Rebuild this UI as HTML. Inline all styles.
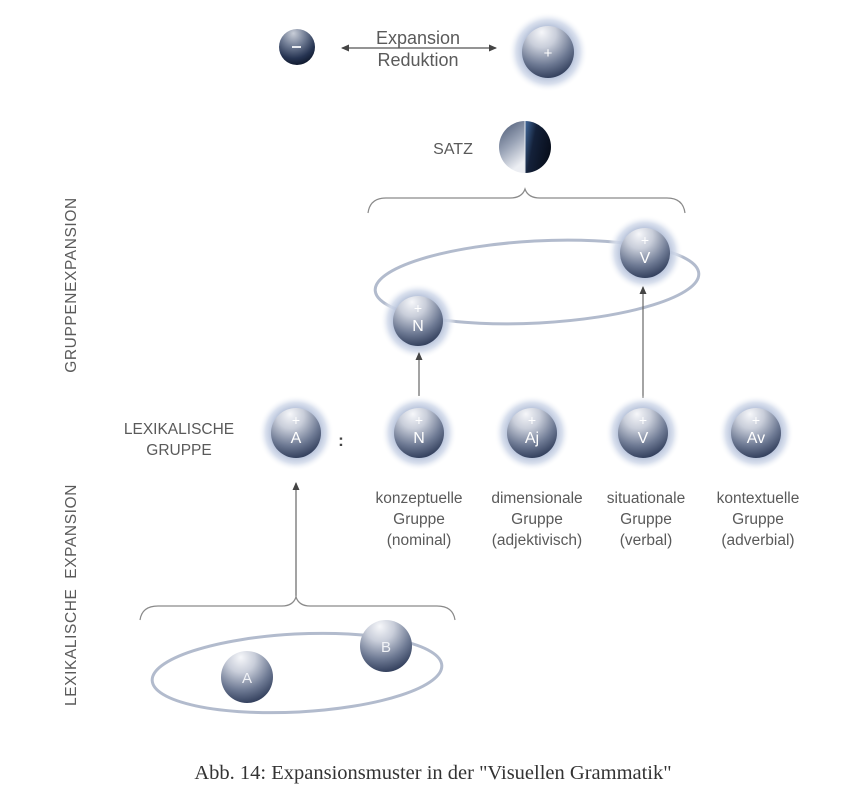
<!DOCTYPE html>
<html><head><meta charset="utf-8"><style>
html,body{margin:0;padding:0;background:#fff;}
svg{display:block;}
.s{font-family:"Liberation Sans",sans-serif;}
.serif{font-family:"Liberation Serif",serif;}
</style></head><body>
<svg width="862" height="796" viewBox="0 0 862 796" xmlns="http://www.w3.org/2000/svg">
<defs>
  <radialGradient id="ball" cx="0.4" cy="0.2" r="0.9" fx="0.38" fy="0.12">
    <stop offset="0" stop-color="#f6f7fa"/>
    <stop offset="0.3" stop-color="#c9ceda"/>
    <stop offset="0.65" stop-color="#6d7993"/>
    <stop offset="1" stop-color="#1f2c4a"/>
  </radialGradient>
  <radialGradient id="ballDark" cx="0.4" cy="0.2" r="0.85" fx="0.4" fy="0.12">
    <stop offset="0" stop-color="#c9ced8"/>
    <stop offset="0.4" stop-color="#6f7b93"/>
    <stop offset="0.75" stop-color="#263452"/>
    <stop offset="1" stop-color="#0c1528"/>
  </radialGradient>
  <radialGradient id="glow" cx="0.5" cy="0.5" r="0.5">
    <stop offset="0.6" stop-color="#aebbd5" stop-opacity="1"/>
    <stop offset="0.8" stop-color="#d3dbeb" stop-opacity="0.85"/>
    <stop offset="1" stop-color="#ffffff" stop-opacity="0"/>
  </radialGradient>
  <linearGradient id="satzL" x1="0" y1="0" x2="0.4" y2="1">
    <stop offset="0" stop-color="#45536f"/>
    <stop offset="0.55" stop-color="#9aa4b7"/>
    <stop offset="1" stop-color="#eceef3"/>
  </linearGradient>
  <linearGradient id="satzR" x1="0" y1="0.2" x2="1" y2="0.6">
    <stop offset="0" stop-color="#3c5f8e"/>
    <stop offset="0.35" stop-color="#14213a"/>
    <stop offset="1" stop-color="#070d1a"/>
  </linearGradient>
  <marker id="arr" markerWidth="8" markerHeight="8" refX="7" refY="4" orient="auto-start-reverse" markerUnits="userSpaceOnUse">
    <path d="M0,0.5 L8,4 L0,7.5 Z" fill="#444"/>
  </marker>
</defs>

<!-- top legend -->
<circle cx="297" cy="47" r="18" fill="url(#ballDark)"/>
<rect x="292" y="46" width="9" height="2" fill="#e8ebf0"/>
<line x1="342" y1="48" x2="496" y2="48" stroke="#555" stroke-width="1.2" marker-end="url(#arr)" marker-start="url(#arr)"/>
<text class="s" x="418" y="44" font-size="18" fill="#5a5a5a" text-anchor="middle">Expansion</text>
<text class="s" x="418" y="66" font-size="18" fill="#5a5a5a" text-anchor="middle">Reduktion</text>
<circle cx="548" cy="52" r="40" fill="url(#glow)"/>
<circle cx="548" cy="52" r="26" fill="url(#ball)"/>
<text class="s" x="548" y="58" font-size="15" fill="#ffffff" text-anchor="middle">+</text>

<!-- SATZ -->
<text class="s" x="453" y="154" font-size="16" fill="#5a5a5a" text-anchor="middle">SATZ</text>
<path d="M525,121 A26,26 0 0 0 525,173 Z" fill="url(#satzL)"/>
<path d="M525,121 A26,26 0 0 1 525,173 Z" fill="url(#satzR)"/>
<line x1="525" y1="121" x2="525" y2="173" stroke="#e4e8ee" stroke-width="1"/>

<!-- top brace -->
<path d="M368,213 Q370,198 386,198 L510,198 Q522,198 525,189 Q528,198 540,198 L667,198 Q683,198 685,213" fill="none" stroke="#8a8a8a" stroke-width="1.2"/>

<!-- top ellipse -->
<ellipse cx="537" cy="282" rx="162" ry="41" transform="rotate(-3 537 282)" fill="none" stroke="#b2bbcd" stroke-width="3"/>

<!-- V top -->
<circle cx="645" cy="253" r="38" fill="url(#glow)"/>
<circle cx="645" cy="253" r="25" fill="url(#ball)"/>
<text class="s" x="645" y="245" font-size="14" fill="#ffffff" text-anchor="middle">+</text>
<text class="s" x="645" y="263" font-size="16" fill="#ffffff" text-anchor="middle">V</text>
<!-- N top -->
<circle cx="418" cy="321" r="38" fill="url(#glow)"/>
<circle cx="418" cy="321" r="25" fill="url(#ball)"/>
<text class="s" x="418" y="313" font-size="14" fill="#ffffff" text-anchor="middle">+</text>
<text class="s" x="418" y="331" font-size="16" fill="#ffffff" text-anchor="middle">N</text>

<!-- arrows up -->
<line x1="419" y1="396" x2="419" y2="353" stroke="#666" stroke-width="1.2" marker-end="url(#arr)"/>
<line x1="643" y1="398" x2="643" y2="287" stroke="#666" stroke-width="1.2" marker-end="url(#arr)"/>

<!-- lexical row -->
<text class="s" x="179" y="434" font-size="15.5" fill="#5a5a5a" text-anchor="middle">LEXIKALISCHE</text>
<text class="s" x="179" y="455" font-size="15.5" fill="#5a5a5a" text-anchor="middle">GRUPPE</text>
<text class="s" x="341" y="446" font-size="17" font-weight="bold" fill="#444" text-anchor="middle">:</text>

<g>
<circle cx="296" cy="433" r="38" fill="url(#glow)"/>
<circle cx="296" cy="433" r="25" fill="url(#ball)"/>
<text class="s" x="296" y="425" font-size="14" fill="#ffffff" text-anchor="middle">+</text>
<text class="s" x="296" y="443" font-size="16" fill="#ffffff" text-anchor="middle">A</text>

<circle cx="419" cy="433" r="38" fill="url(#glow)"/>
<circle cx="419" cy="433" r="25" fill="url(#ball)"/>
<text class="s" x="419" y="425" font-size="14" fill="#ffffff" text-anchor="middle">+</text>
<text class="s" x="419" y="443" font-size="16" fill="#ffffff" text-anchor="middle">N</text>

<circle cx="532" cy="433" r="38" fill="url(#glow)"/>
<circle cx="532" cy="433" r="25" fill="url(#ball)"/>
<text class="s" x="532" y="425" font-size="14" fill="#ffffff" text-anchor="middle">+</text>
<text class="s" x="532" y="443" font-size="16" fill="#ffffff" text-anchor="middle">Aj</text>

<circle cx="643" cy="433" r="38" fill="url(#glow)"/>
<circle cx="643" cy="433" r="25" fill="url(#ball)"/>
<text class="s" x="643" y="425" font-size="14" fill="#ffffff" text-anchor="middle">+</text>
<text class="s" x="643" y="443" font-size="16" fill="#ffffff" text-anchor="middle">V</text>

<circle cx="756" cy="433" r="38" fill="url(#glow)"/>
<circle cx="756" cy="433" r="25" fill="url(#ball)"/>
<text class="s" x="756" y="425" font-size="14" fill="#ffffff" text-anchor="middle">+</text>
<text class="s" x="756" y="443" font-size="16" fill="#ffffff" text-anchor="middle">Av</text>
</g>

<!-- row labels -->
<g class="s" font-size="15.5" fill="#5a5a5a" text-anchor="middle">
<text x="419" y="503">konzeptuelle</text>
<text x="419" y="524">Gruppe</text>
<text x="419" y="545">(nominal)</text>
<text x="537" y="503">dimensionale</text>
<text x="537" y="524">Gruppe</text>
<text x="537" y="545">(adjektivisch)</text>
<text x="646" y="503">situationale</text>
<text x="646" y="524">Gruppe</text>
<text x="646" y="545">(verbal)</text>
<text x="758" y="503">kontextuelle</text>
<text x="758" y="524">Gruppe</text>
<text x="758" y="545">(adverbial)</text>
</g>

<!-- arrow to A -->
<line x1="296" y1="598" x2="296" y2="483" stroke="#666" stroke-width="1.2" marker-end="url(#arr)"/>

<!-- bottom brace -->
<path d="M140,620 Q142,606 158,606 L282,606 Q293,606 296,597 Q299,606 310,606 L437,606 Q453,606 455,620" fill="none" stroke="#8a8a8a" stroke-width="1.2"/>

<!-- bottom ellipse -->
<ellipse cx="297" cy="673" rx="145" ry="39" transform="rotate(-3 297 673)" fill="none" stroke="#b2bbcd" stroke-width="3"/>
<circle cx="247" cy="677" r="26" fill="url(#ball)"/>
<text class="s" x="247" y="683" font-size="15" fill="#f0f2f6" text-anchor="middle">A</text>
<circle cx="386" cy="646" r="26" fill="url(#ball)"/>
<text class="s" x="386" y="652" font-size="15" fill="#f0f2f6" text-anchor="middle">B</text>

<!-- vertical labels -->
<text class="s" transform="translate(76,285) rotate(-90)" font-size="15.5" fill="#5a5a5a" text-anchor="middle" letter-spacing="0.6">GRUPPENEXPANSION</text>
<text class="s" transform="translate(76,595) rotate(-90)" font-size="15.5" fill="#5a5a5a" text-anchor="middle" letter-spacing="0.6" xml:space="preserve">LEXIKALISCHE  EXPANSION</text>

<!-- caption -->
<text class="serif" x="433" y="779" font-size="20.5" fill="#333" text-anchor="middle">Abb. 14: Expansionsmuster in der "Visuellen Grammatik"</text>
</svg>
</body></html>
